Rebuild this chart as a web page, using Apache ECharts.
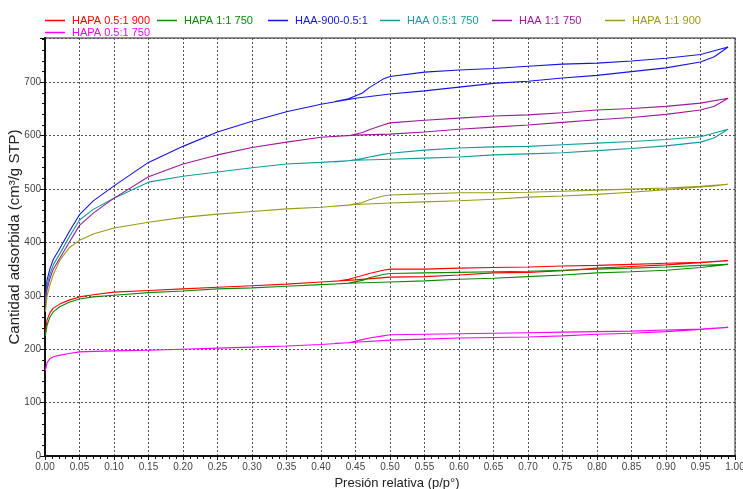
<!DOCTYPE html>
<html>
<head>
<meta charset="utf-8">
<script src="https://cdn.jsdelivr.net/npm/echarts@6/dist/echarts.min.js"></script>
<style>
    html, body { margin: 0; padding: 0; background: #fff; }
    #chart { width: 743px; height: 489px; }
</style>
</head>
<body>
<div id="chart"></div>
<script>
// presiones relativas: rama de adsorcion (sube) y desorcion (baja)
const pAds = [0.0005, 0.003, 0.007, 0.012, 0.022, 0.035, 0.05, 0.07, 0.1, 0.15, 0.2, 0.25, 0.3, 0.35, 0.4,
    0.45, 0.5, 0.55, 0.6, 0.65, 0.7, 0.75, 0.8, 0.85, 0.9, 0.95, 0.97, 0.99];
const pDes = [0.95, 0.9, 0.85, 0.8, 0.75, 0.7, 0.65, 0.6, 0.55, 0.5, 0.49, 0.47, 0.46, 0.44, 0.42];

const names = ['HAPA 0.5:1 900', 'HAPA 1:1 750', 'HAA-900-0.5:1', 'HAA 0.5:1 750', 'HAA 1:1 750', 'HAPA 1:1 900', 'HAPA 0.5:1 750'];
const colors = ['#ff0000', '#0a8a0a', '#1515e6', '#139c9c', '#9b1b9b', '#9a9a1c', '#ff00ff'];

const redAds = [230, 255, 268, 277, 285, 292, 298, 302, 307, 310, 313, 316, 319, 322, 326, 330, 335, 336, 339, 343, 344, 347, 352, 355, 358, 362, 364, 366];
const redDes = [363, 361, 359, 357, 356, 354, 353, 352, 350, 350, 348, 342, 338, 331, 327];
const greenAds = [225, 245, 260, 270, 280, 288, 294, 298, 301, 306, 309, 313, 315, 318, 321, 324, 326, 328, 331, 333, 336, 339, 343, 345, 348, 353, 356, 359];
const greenDes = [357, 354, 352, 350, 348, 346, 345, 344, 343, 342, 340, 334, 329, 324, 322];
const blueAds = [295, 330, 350, 368, 390, 420, 452, 478, 506, 550, 580, 607, 627, 645, 659, 670, 678, 684, 691, 698, 702, 708, 713, 720, 727, 738, 748, 766];
const blueDes = [752, 745, 740, 736, 734, 730, 726, 723, 719, 711, 706, 690, 680, 669, 664];
const tealAds = [290, 320, 340, 358, 380, 410, 442, 462, 483, 513, 524, 532, 540, 547, 550, 554, 556, 558, 560, 564, 566, 568, 572, 576, 581, 588, 596, 612];
const tealDes = [598, 593, 589, 586, 583, 580, 579, 577, 573, 567, 565, 560, 557, 553, 551];
const purpleAds = [285, 312, 332, 350, 372, 400, 432, 455, 483, 523, 547, 564, 578, 588, 597, 601, 603, 607, 612, 616, 620, 625, 630, 634, 640, 648, 655, 670];
const purpleDes = [661, 655, 651, 648, 643, 639, 637, 633, 629, 624, 620, 611, 606, 600, 599];
const oliveAds = [270, 300, 320, 340, 368, 390, 404, 416, 427, 438, 447, 453, 458, 463, 466, 471, 474, 476, 478, 481, 485, 487, 490, 494, 499, 504, 506, 509];
const oliveDes = [505, 502, 500, 498, 496, 494, 493, 493, 491, 489, 487, 480, 475, 470, 468];
const magentaAds = [160, 175, 182, 186, 189, 192, 195, 196, 197, 198, 200, 202, 204, 206, 209, 213, 217, 219, 221, 222, 223, 225, 228, 230, 233, 237, 239, 241];
const magentaDes = [238, 236, 234, 233, 232, 231, 230, 229, 228, 227, 225, 221, 218, 212, 211];

const branches = [
    [redAds, redDes], [greenAds, greenDes], [blueAds, blueDes], [tealAds, tealDes],
    [purpleAds, purpleDes], [oliveAds, oliveDes], [magentaAds, magentaDes]
];

// una serie = adsorcion hacia arriba y luego desorcion de vuelta
function buildLoop(ads, des) {
    let pts = pAds.map((p, i) => [p, ads[i]]);
    return pts.concat(pDes.map((p, i) => [p, des[i]]));
}

const font = 'Liberation Sans, Arial, sans-serif';

// leyenda en columnas fijas (6 por fila, la septima abajo)
const legendPos = [[45, 15], [157, 15], [268, 15], [380, 15], [492, 15], [605, 15], [45, 27]];
const legends = names.map((n, i) => ({
    left: legendPos[i][0], top: legendPos[i][1],
    padding: 0, icon: 'rect', itemWidth: 20, itemHeight: 1.5,
    textStyle: { fontSize: 11, fontFamily: font, color: colors[i], padding: [0, 0, 0, 2] },
    data: [n]
}));

const chart = echarts.init(document.getElementById('chart'));

chart.setOption({
    animation: false,
    textStyle: { fontFamily: font },
    grid: {
        left: 45, right: 8, top: 38, bottom: 33,
        outerBoundsMode: 'none', containLabel: false,
        show: true, borderColor: '#6e6e6e', borderWidth: 1.5, backgroundColor: '#fff'
    },
    legend: legends,
    xAxis: {
        type: 'value', min: 0, max: 1, interval: 0.05,
        name: 'Presión relativa (p/p°)', nameLocation: 'middle', nameGap: 19,
        nameTextStyle: { fontSize: 13, color: '#222', padding: [0, 0, 0, 14] },
        axisLine: { lineStyle: { color: '#111', width: 2 } },
        axisTick: { length: 4, lineStyle: { color: '#111' } },
        minorTick: { show: true, splitNumber: 5, length: 3, lineStyle: { color: '#111' } },
        axisLabel: { fontSize: 10, color: '#444', margin: 6, formatter: v => v.toFixed(2) },
        splitLine: { show: true, lineStyle: { color: '#555', type: [2, 2], width: 1 } }
    },
    yAxis: {
        type: 'value', min: 0, max: 783, interval: 100,
        name: 'Cantidad adsorbida (cm³/g STP)', nameLocation: 'middle', nameGap: 23,
        nameMoveOverlap: false,
        nameTextStyle: { fontSize: 15, color: '#222', padding: [0, 0, 0, 20] },
        axisLine: { show: true, lineStyle: { color: '#111', width: 2 } },
        axisTick: { show: true, length: 5, lineStyle: { color: '#111' } },
        minorTick: { show: true, splitNumber: 5, length: 3, lineStyle: { color: '#111' } },
        axisLabel: { fontSize: 10, color: '#444', margin: 4, showMaxLabel: false },
        splitLine: { show: true, lineStyle: { color: '#555', type: [2, 2], width: 1 } }
    },
    series: branches.map((b, i) => ({
        name: names[i],
        type: 'line',
        symbol: 'none',
        color: colors[i],
        lineStyle: { width: 1.1, color: colors[i] },
        data: buildLoop(b[0], b[1])
    }))
});
</script>
</body>
</html>
